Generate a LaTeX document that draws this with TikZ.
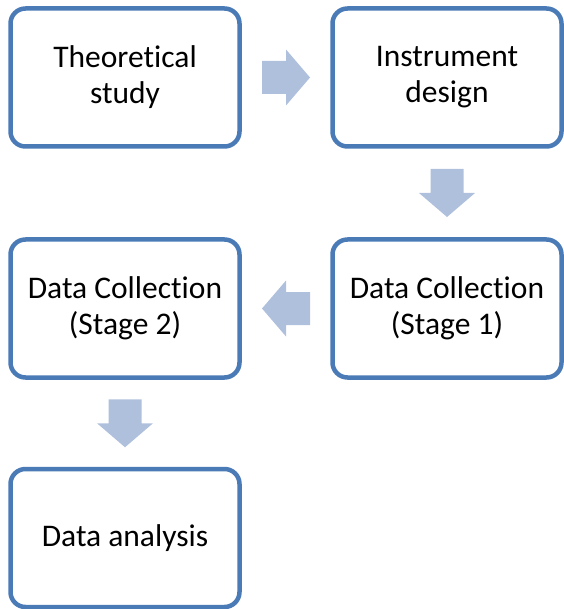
\documentclass[tikz,border=0pt]{standalone}
\usepackage{fontspec}
\setmainfont{Carlito}[Ligatures=NoCommon]
\usetikzlibrary{calc}
\definecolor{boxblue}{HTML}{4A7BB7}
\definecolor{arrowblue}{HTML}{AFC0DD}
\tikzset{stagebox/.style={draw=boxblue, line width=4.5pt, rounded corners=15pt, fill=white,
    minimum width=229pt, minimum height=138pt, align=center, inner sep=0pt,
    font=\fontsize{31.5}{36}\selectfont}}
\tikzset{flowarrow/.pic={
    \fill[arrowblue] (-24,-16.5) -- (0,-16.5) -- (0,-28) -- (24,0) -- (0,28) -- (0,16.5) -- (-24,16.5) -- cycle;
  }}

\begin{document}
\begin{tikzpicture}[x=1pt,y=-1pt]
  \useasboundingbox (0,0) rectangle (563,609);
  \foreach \x/\y/\lab/\txt in {
    125/77.5/theory/{Theoretical\\study},
    447/77.5/instr/{Instrument\\design},
    447/308.5/stageone/{Data Collection\\(Stage 1)},
    125/308.5/stagetwo/{Data Collection\\(Stage 2)},
    125/538/analysis/{Data analysis}%
  } {
    \node[stagebox] (\lab) at (\x, \y) {\txt};
  }
  \pic at ($(theory.east)!0.5!(instr.west)$) {flowarrow};
  \pic[rotate=-90] at ($(instr.south)!0.5!(stageone.north)$) {flowarrow};
  \pic[rotate=180] at ($(stageone.west)!0.5!(stagetwo.east)$) {flowarrow};
  \pic[rotate=-90] at ($(stagetwo.south)!0.5!(analysis.north)$) {flowarrow};
\end{tikzpicture}
\end{document}
